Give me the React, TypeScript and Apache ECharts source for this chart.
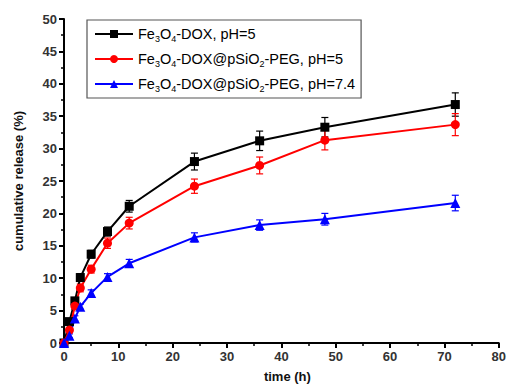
import React, { useEffect, useRef } from "react";
import * as echarts from "echarts";

const times = [0, 1, 2, 3, 5, 8, 12, 24, 36, 48, 72];
const blackVals = [0, 3.3, 6.5, 10.1, 13.7, 17.2, 21.1, 28.0, 31.2, 33.3, 36.8];
const blackErr = [0, 0.4, 0.5, 0.6, 0.6, 0.7, 0.9, 1.3, 1.5, 1.5, 1.8];
const redVals = [0, 2.0, 5.7, 8.5, 11.4, 15.4, 18.5, 24.2, 27.4, 31.3, 33.7];
const redErr = [0, 0.4, 0.5, 0.6, 0.6, 0.8, 0.9, 1.1, 1.3, 1.5, 1.7];
const blueVals = [0, 1.1, 3.8, 5.6, 7.7, 10.2, 12.3, 16.3, 18.2, 19.1, 21.6];
const blueErr = [0, 0.3, 0.4, 0.4, 0.5, 0.5, 0.6, 0.7, 0.8, 0.9, 1.2];

const seriesNames = [
  "{n|Fe}{s|3}{n|O}{s|4}{n|-DOX, pH=5}",
  "{n|Fe}{s|3}{n|O}{s|4}{n|-DOX@pSiO}{s|2}{n|-PEG, pH=5}",
  "{n|Fe}{s|3}{n|O}{s|4}{n|-DOX@pSiO}{s|2}{n|-PEG, pH=7.4}",
];
const colors = ["#000000", "#ff0000", "#0000ff"];
const symbols = ["rect", "circle", "triangle"];

function errSeries(vals: number[], errs: number[], color: string) {
  return {
    type: "custom",
    silent: true,
    z: 1,
    data: times.map((t, i) => [t, vals[i], errs[i]]),
    renderItem: (params: any, api: any) => {
      const x = api.value(0);
      const y = api.value(1);
      const e = api.value(2);
      if (!e) return null;
      const top = api.coord([x, y + e]);
      const bot = api.coord([x, y - e]);
      const w = 3.5;
      const st = { stroke: color, lineWidth: 1.2 };
      return {
        type: "group",
        children: [
          { type: "line", shape: { x1: top[0], y1: top[1], x2: bot[0], y2: bot[1] }, style: st },
          { type: "line", shape: { x1: top[0] - w, y1: top[1], x2: top[0] + w, y2: top[1] }, style: st },
          { type: "line", shape: { x1: bot[0] - w, y1: bot[1], x2: bot[0] + w, y2: bot[1] }, style: st },
        ],
      };
    },
  };
}

export default function App() {
  const ref = useRef<HTMLDivElement>(null);
  useEffect(() => {
    if (!ref.current) return;
    const chart = echarts.init(ref.current, null, { renderer: "svg" });
    const allVals = [blackVals, redVals, blueVals];
    const lineSeries = allVals.map((vals, k) => ({
      name: seriesNames[k],
      type: "line",
      data: times.map((t, i) => [t, vals[i]]),
      symbol: symbols[k],
      symbolSize: k === 2 ? 10 : 9,
      showAllSymbol: true,
      lineStyle: { color: colors[k], width: 2 },
      itemStyle: { color: colors[k] },
      z: 3,
    }));
    chart.setOption({
      animation: false,
      backgroundColor: "#ffffff",
      grid: { left: 64, right: 9, top: 19, bottom: 47 },
      legend: {
        left: 87,
        top: 20,
        orient: "vertical",
        itemGap: 8,
        itemWidth: 38,
        itemHeight: 10,
        padding: [6, 6, 5, 7],
        borderColor: "#555",
        borderWidth: 1.2,
        data: seriesNames,
        textStyle: {
          rich: {
            n: { fontSize: 14.5, color: "#000", fontFamily: "Liberation Sans, Arial", lineHeight: 18 },
            s: { fontSize: 9, color: "#000", fontFamily: "Liberation Sans, Arial", lineHeight: 18, verticalAlign: "bottom", padding: [8, 0, 0, 0] },
          },
        },
      },
      xAxis: {
        type: "value",
        min: 0,
        max: 80,
        interval: 10,
        name: "time (h)",
        nameLocation: "middle",
        nameGap: 27,
        nameTextStyle: { fontWeight: "bold", fontSize: 13, color: "#111", fontFamily: "Liberation Sans, Arial", padding: [0, 0, 0, 12] },
        axisLine: { lineStyle: { color: "#000", width: 2 } },
        axisTick: { show: true, inside: false, length: 5, lineStyle: { color: "#000", width: 2 } },
        minorTick: { show: true, splitNumber: 2, length: 3, lineStyle: { color: "#000", width: 1.5 } },
        axisLabel: { fontSize: 13, fontWeight: "bold", color: "#333", fontFamily: "Liberation Sans, Arial", margin: 7 },
        splitLine: { show: false },
      },
      yAxis: {
        type: "value",
        min: 0,
        max: 50,
        interval: 5,
        name: "cumulative release (%)",
        nameLocation: "middle",
        nameRotate: 90,
        nameGap: 39,
        nameTextStyle: { fontWeight: "bold", fontSize: 13, color: "#111", fontFamily: "Liberation Sans, Arial" },
        axisLine: { show: true, lineStyle: { color: "#000", width: 2 } },
        axisTick: { show: true, inside: false, length: 5, lineStyle: { color: "#000", width: 2 } },
        minorTick: { show: true, splitNumber: 2, length: 3, lineStyle: { color: "#000", width: 1.5 } },
        axisLabel: { fontSize: 13, fontWeight: "bold", color: "#333", fontFamily: "Liberation Sans, Arial", margin: 7 },
        splitLine: { show: false },
      },
      series: [
        errSeries(blackVals, blackErr, "#000000"),
        errSeries(redVals, redErr, "#ff0000"),
        errSeries(blueVals, blueErr, "#0000ff"),
        ...lineSeries,
      ],
    });
    return () => chart.dispose();
  }, []);
  return <div ref={ref} style={{ width: 509, height: 390, position: "absolute", left: 0, top: 0 }} />;
}
